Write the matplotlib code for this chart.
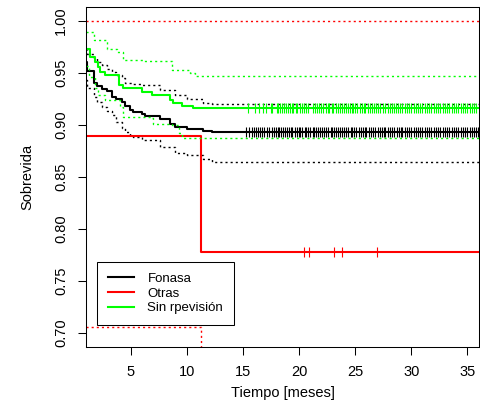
#!/usr/bin/env python3
"""Curvas de sobrevida Kaplan-Meier por previsión."""

import matplotlib
matplotlib.use('Agg')
import matplotlib.pyplot as plt
from matplotlib.lines import Line2D

plt.rcParams.update({
    'font.family': ['Liberation Sans', 'DejaVu Sans'],
    'font.size': 10.5,
})

BLACK = '#000000'
RED = '#ff0000'
GREEN = '#00ff00'

# Fonasa: estimación y bandas de confianza (escalones)
fon_t = [1.0, 1.08, 1.67, 1.97, 2.41, 2.86, 3.31, 3.69, 4.20, 4.49, 4.94, 5.23,
         5.98, 6.27, 7.61, 8.50, 8.95, 9.99, 11.47, 12.22, 36.1]
fon_s = [0.960, 0.952, 0.940, 0.937, 0.934, 0.932, 0.927, 0.925, 0.922, 0.918, 0.914,
         0.912, 0.910, 0.908, 0.9055, 0.9007, 0.898, 0.896, 0.8935, 0.8925, 0.8925]
fon_up = [0.9725, 0.968, 0.9638, 0.9606, 0.957, 0.954, 0.951, 0.9478, 0.945, 0.9404,
          0.9404, 0.9395, 0.9382, 0.9382, 0.9334, 0.9334, 0.9286, 0.9247, 0.9212, 0.920, 0.920]
fon_lo = [0.943, 0.935, 0.927, 0.922, 0.917, 0.913, 0.909, 0.903, 0.897, 0.893, 0.890,
          0.888, 0.8853, 0.8853, 0.8788, 0.8788, 0.8725, 0.8709, 0.8667, 0.8644, 0.8644]
fon_cens = [15.3, 15.55, 15.8, 16.0, 16.2, 16.35, 16.55, 16.7, 16.9, 17.1, 17.35, 17.6,
            17.8, 17.95, 18.1, 18.25, 18.4, 18.6, 18.75, 18.9, 19.1, 19.25, 19.4, 19.6,
            19.8, 19.95, 20.1, 20.3, 20.5, 20.65, 20.8, 21.0, 21.2, 21.35, 21.5, 21.7,
            21.9, 22.05, 22.2, 22.4, 22.6, 22.8, 22.95, 23.1, 23.3, 23.5, 23.65, 23.8,
            24.0, 24.2, 24.4, 24.6, 24.75, 24.9, 25.1, 25.3, 25.5, 25.7, 25.85, 26.0,
            26.2, 26.4, 26.6, 26.8, 27.0, 27.2, 27.4, 27.55, 27.7, 27.9, 28.1, 28.3,
            28.5, 28.7, 28.9, 29.05, 29.2, 29.4, 29.6, 29.8, 30.0, 30.2, 30.4, 30.6,
            30.8, 31.0, 31.2, 31.4, 31.6, 31.8, 32.0, 32.2, 32.4, 32.6, 32.8, 33.0,
            33.2, 33.4, 33.6, 33.8, 34.0, 34.2, 34.4, 34.6, 34.8, 35.0, 35.2, 35.4,
            35.6, 35.8, 35.95]

# Otras
otr_t = [1.0, 11.24, 36.1]
otr_s = [0.8889, 0.7778, 0.7778]
otr_up = [1.0, 1.0, 1.0]
otr_lo = [0.705, 0.60, 0.60]
otr_cens = [20.47, 20.92, 23.15, 23.86, 26.92]

# Sin previsión
sin_t = [1.0, 1.37, 1.82, 2.11, 2.26, 2.71, 3.90, 4.34, 5.98, 6.87, 8.50, 8.80,
         9.54, 10.58, 36.1]
sin_s = [0.9725, 0.9654, 0.9606, 0.9558, 0.951, 0.9478, 0.9382, 0.935, 0.9317,
         0.9286, 0.9238, 0.9206, 0.918, 0.9158, 0.9158]
sin_up_t = [1.0, 1.67, 2.86, 3.75, 4.34, 6.12, 8.65, 10.28, 10.73, 36.1]
sin_up = [0.9894, 0.9815, 0.9725, 0.970, 0.9622, 0.9615, 0.9526, 0.9494, 0.9468, 0.9468]
sin_lo_t = [1.0, 1.3, 1.82, 2.11, 2.71, 4.05, 4.34, 6.87, 7.0, 8.65, 9.3, 9.6, 36.1]
sin_lo = [0.956, 0.946, 0.935, 0.9286, 0.9238, 0.9174, 0.9077, 0.9061, 0.9007,
          0.8997, 0.8917, 0.8875, 0.8865]
sin_cens = [15.48, 16.1, 16.4, 16.75, 17.05, 17.5, 17.6, 18.0, 18.15, 18.3, 18.5,
            18.65, 18.8, 19.0, 19.2, 19.35, 19.5, 19.7, 19.85, 20.05, 20.25, 20.4,
            20.6, 20.75, 21.2, 21.4, 21.6, 21.8, 21.95, 22.1, 22.4, 22.55, 22.7, 22.9,
            23.05, 23.25, 23.5, 23.65, 23.8, 24.0, 24.2, 24.35, 24.5, 24.7, 24.85,
            25.0, 25.2, 25.4, 25.6, 25.75, 25.9, 26.1, 26.3, 26.5, 26.7, 26.85, 27.0,
            27.2, 27.5, 27.7, 27.9, 28.1, 28.3, 28.5, 28.65, 28.8, 29.0, 29.2, 29.4,
            29.6, 29.8, 30.0, 30.2, 30.4, 30.6, 30.8, 31.0, 31.2, 31.4, 31.6, 31.8,
            32.0, 32.2, 32.4, 32.6, 32.8, 33.0, 33.2, 33.4, 33.6, 33.8, 34.0, 34.2,
            34.4, 34.6, 34.8, 35.0, 35.2, 35.4, 35.6, 35.8]

labels = ['Fonasa', 'Otras', 'Sin rpevisión']
x_ticks = [5, 10, 15, 20, 25, 30, 35]
y_ticks = [0.70, 0.75, 0.80, 0.85, 0.90, 0.95, 1.00]


def level_at(t, times, surv):
    s = surv[0]
    for ti, si in zip(times, surv):
        if ti <= t:
            s = si
    return s


fig = plt.figure(figsize=(4.81, 4.20), dpi=100)
ax = fig.add_axes([86 / 481, (420 - 346.7) / 420, 393 / 481, 339.4 / 420])

dot = (0, (1.5, 2.2))
ci_lw = 1.0

for times, surv, up, lo, color, cens in [
        (fon_t, fon_s, fon_up, fon_lo, BLACK, fon_cens),
        (otr_t, otr_s, otr_up, otr_lo, RED, otr_cens),
        (sin_t, sin_s, None, None, GREEN, sin_cens)]:
    if up is not None:
        ax.plot(times, up, drawstyle='steps-post', color=color, lw=ci_lw, ls=dot)
        ax.plot(times, lo, drawstyle='steps-post', color=color, lw=ci_lw, ls=dot)
    ax.plot(times, surv, drawstyle='steps-post', color=color, lw=1.5)
    ax.plot(cens, [level_at(c, times, surv) for c in cens], ls='none',
            marker='|', ms=7.5, mew=0.8, color=color)

ax.plot(sin_up_t, sin_up, drawstyle='steps-post', color=GREEN, lw=ci_lw, ls=dot)
ax.plot(sin_lo_t, sin_lo, drawstyle='steps-post', color=GREEN, lw=ci_lw, ls=dot)

ax.set_xlim(1.0, 36.04)
ax.set_ylim(0.6865, 1.0129)
ax.set_xticks(x_ticks)
ax.set_yticks(y_ticks)
ax.set_yticklabels([f'{v:.2f}' for v in y_ticks], rotation=90, va='center')
ax.tick_params(direction='out', length=6, width=0.75, pad=7)
for sp in ax.spines.values():
    sp.set_linewidth(0.75)

ax.set_xlabel('Tiempo [meses]', labelpad=5)
ax.set_ylabel('Sobrevida', labelpad=14)

handles = [Line2D([], [], color=c, lw=1.5) for c in (BLACK, RED, GREEN)]
leg = ax.legend(handles, labels, loc='lower left', bbox_to_anchor=(0.0288, 0.064),
                borderaxespad=0, fancybox=False, edgecolor='black', framealpha=1,
                fontsize=9.5, handlelength=2.0, handletextpad=1.0,
                labelspacing=0.2, borderpad=0.8)
leg.get_frame().set_linewidth(0.75)

plt.savefig('out.png', dpi=100)
plt.close()
